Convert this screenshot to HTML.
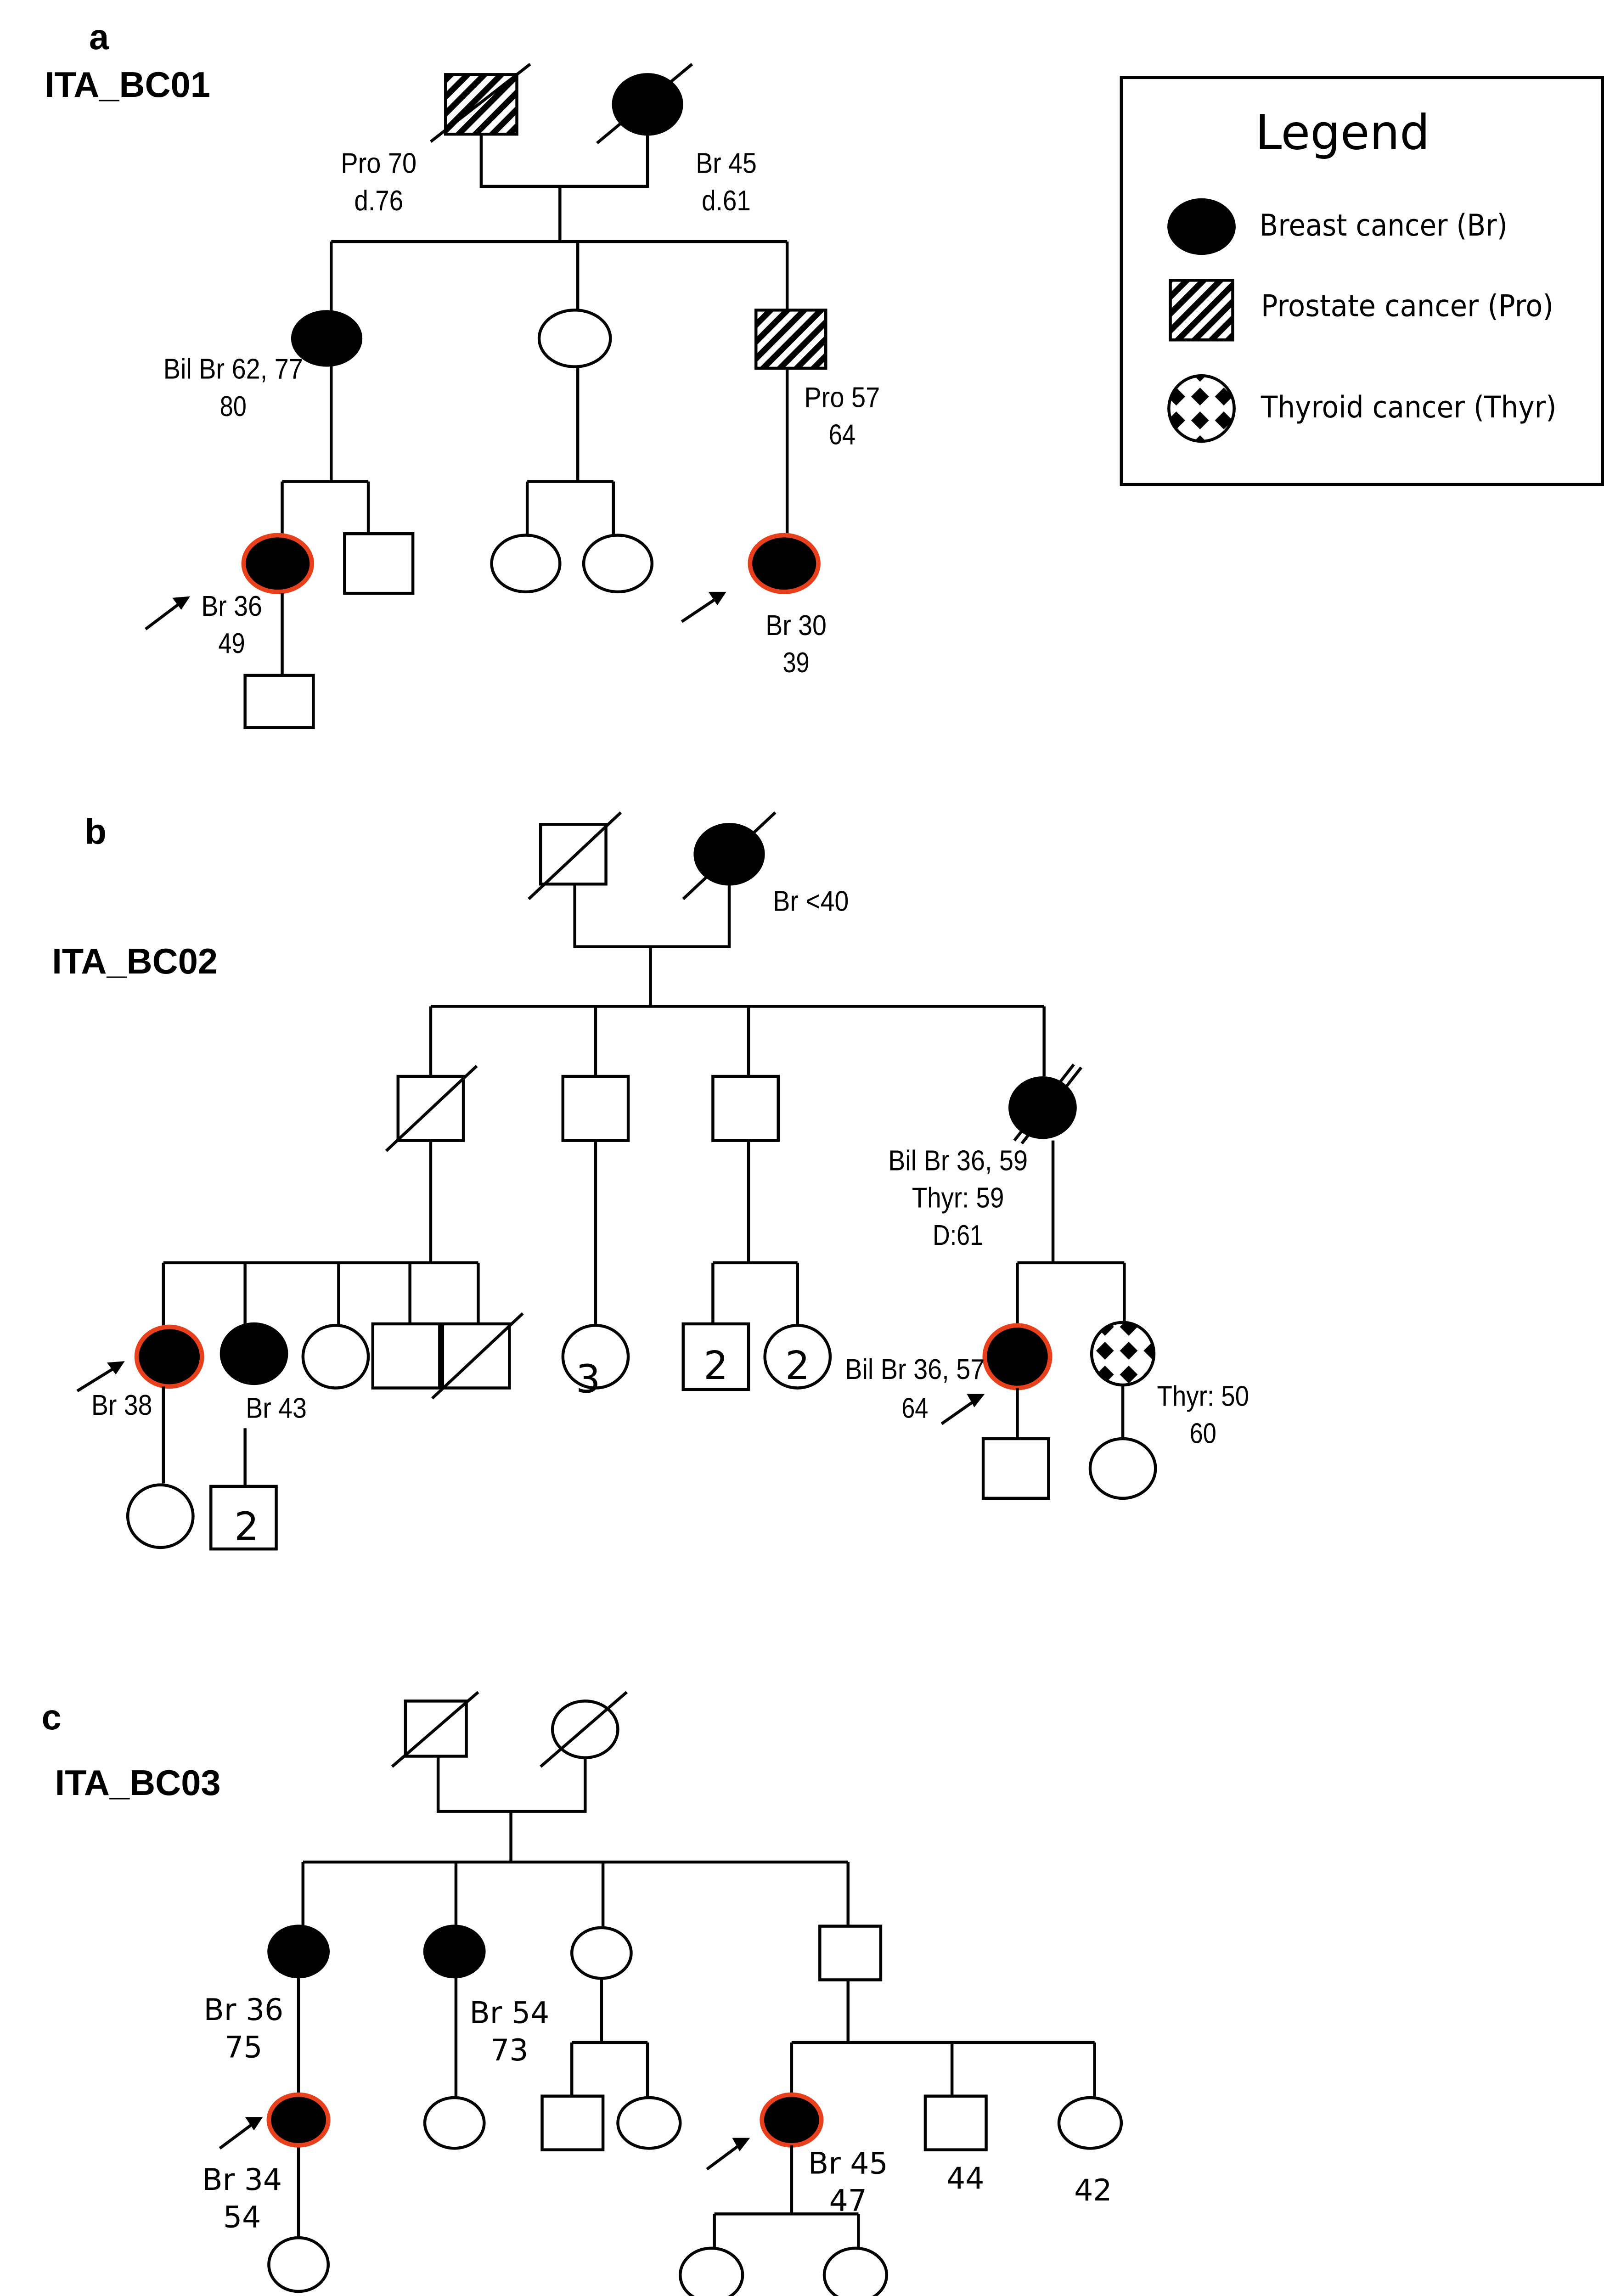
<!DOCTYPE html>
<html><head><meta charset="utf-8"><style>
html,body{margin:0;padding:0;background:#fff;width:3493px;height:5016px;overflow:hidden}
svg{display:block}
.n{font-family:"Liberation Sans Narrow","Liberation Sans",sans-serif;font-size:19px;text-anchor:middle}
.d{font-family:"DejaVu Sans","Liberation Sans",sans-serif;font-size:20px;text-anchor:middle}
.b{font-family:"Liberation Sans",sans-serif;font-weight:bold;font-size:24px}
.l{font-family:"DejaVu Sans","Liberation Sans",sans-serif;font-size:20px}
</style></head><body>
<svg width="3493" height="5016" viewBox="0 0 1080 1545" preserveAspectRatio="none" xmlns="http://www.w3.org/2000/svg">
<defs>
<pattern id="h" patternUnits="userSpaceOnUse" width="8" height="8" patternTransform="rotate(45)">
<rect width="8" height="8" fill="#fff"/><rect width="4" height="8" fill="#000"/></pattern>
<pattern id="t" patternUnits="userSpaceOnUse" width="16" height="16" x="0" y="2">
<rect width="16" height="16" fill="#fff"/><polygon points="8,2 14,8 8,14 2,8" fill="#000"/></pattern>
</defs>
<g stroke="#000" stroke-width="2" fill="none">
<rect x="300" y="50" width="48" height="40" fill="url(#h)"/>
<line x1="290" y1="95" x2="357" y2="43"/>
<ellipse cx="436" cy="70" rx="23" ry="20" fill="#000"/>
<line x1="402" y1="96" x2="466" y2="43"/>
<path d="M324 90V125H436V90M377 125V162M223 162H530M223 162V210M389 162V210M530 162V208"/>
<ellipse cx="220" cy="227" rx="23" ry="18" fill="#000"/>
<ellipse cx="387" cy="227" rx="24" ry="19" fill="#fff"/>
<rect x="509" y="208" width="47" height="39" fill="url(#h)"/>
<path d="M223 245V323M190 323H248M190 323V360M248 323V358"/>
<ellipse cx="187" cy="378" rx="23" ry="19" fill="#000" stroke="#e8401c" stroke-width="3"/>
<rect x="232" y="358" width="46" height="40" fill="#fff"/>
<path d="M190 398V453"/>
<rect x="165" y="453" width="46" height="35" fill="#fff"/>
<path d="M389 246V323M355 323H413M355 323V359M413 323V359"/>
<ellipse cx="354" cy="378" rx="23" ry="19" fill="#fff"/>
<ellipse cx="416" cy="378" rx="23" ry="19" fill="#fff"/>
<path d="M530 247V360"/>
<ellipse cx="528" cy="378" rx="23" ry="19" fill="#000" stroke="#e8401c" stroke-width="3"/>
<rect x="755" y="52" width="324" height="273"/>
<ellipse cx="809" cy="152" rx="22" ry="18" fill="#000"/>
<rect x="788" y="188" width="42" height="40" fill="url(#h)"/>
<circle cx="809" cy="274" r="22" fill="url(#t)"/>
<rect x="364" y="553" width="44" height="40"/>
<line x1="356" y1="603" x2="418" y2="545"/>
<ellipse cx="491" cy="573" rx="23" ry="20" fill="#000"/>
<line x1="460" y1="603" x2="522" y2="545"/>
<path d="M387 593V635H491V593M438 635V675M290 675H703M290 675V722M401 675V722M504 675V722M703 675V722"/>
<rect x="268" y="722" width="44" height="43"/>
<line x1="260" y1="772" x2="321" y2="715"/>
<rect x="379" y="722" width="44" height="43"/>
<rect x="480" y="722" width="44" height="43"/>
<ellipse cx="702" cy="743" rx="22" ry="20" fill="#000"/>
<line x1="683" y1="765" x2="723" y2="714"/>
<line x1="688" y1="767" x2="728" y2="716"/>
<path d="M290 765V847M110 847H322M110 847V890M165 847V888M228 847V890M276 847V888M322 847V888"/>
<ellipse cx="114" cy="910" rx="22" ry="20" fill="#000" stroke="#e8401c" stroke-width="3"/>
<ellipse cx="171" cy="908" rx="22" ry="20" fill="#000"/>
<ellipse cx="226" cy="910" rx="22" ry="21" fill="#fff"/>
<rect x="251" y="888" width="45" height="43" fill="#fff"/>
<rect x="298" y="888" width="45" height="43" fill="#fff"/>
<line x1="291" y1="938" x2="352" y2="881"/>
<path d="M110 930V995M165 958V997"/>
<ellipse cx="108" cy="1017" rx="22" ry="21"/>
<rect x="142" y="997" width="44" height="42"/>
<path d="M401 765V889"/>
<ellipse cx="401" cy="910" rx="22" ry="21"/>
<path d="M504 765V847M480 847H537M480 847V888M537 847V889"/>
<rect x="460" y="888" width="44" height="44"/>
<ellipse cx="537" cy="910" rx="22" ry="21"/>
<path d="M709 765V847M685 847H757M685 847V888M757 847V887"/>
<ellipse cx="685" cy="910" rx="22" ry="21" fill="#000" stroke="#e8401c" stroke-width="3"/>
<circle cx="756" cy="908" r="21" fill="url(#t)"/>
<path d="M685 931V965M756 929V965"/>
<rect x="662" y="965" width="44" height="40"/>
<ellipse cx="756" cy="985" rx="22" ry="20"/>
<rect x="273" y="1141" width="41" height="37"/>
<line x1="264" y1="1185" x2="322" y2="1135"/>
<ellipse cx="394" cy="1160" rx="22" ry="19"/>
<line x1="364" y1="1185" x2="422" y2="1135"/>
<path d="M295 1178V1215H394V1179M344 1215V1249M204 1249H571M204 1249V1292M307 1249V1292M406 1249V1293M571 1249V1292"/>
<ellipse cx="201" cy="1309" rx="20" ry="17" fill="#000"/>
<ellipse cx="306" cy="1309" rx="20" ry="17" fill="#000"/>
<ellipse cx="405" cy="1310" rx="20" ry="17"/>
<rect x="552" y="1292" width="41" height="36"/>
<path d="M201 1326V1405M201 1439V1501M307 1326V1407"/>
<ellipse cx="201" cy="1422" rx="20" ry="17" fill="#000" stroke="#e8401c" stroke-width="3"/>
<ellipse cx="201" cy="1519" rx="20" ry="18"/>
<ellipse cx="306" cy="1424" rx="20" ry="17"/>
<path d="M405 1327V1370M385 1370H436M385 1370V1406M436 1370V1407"/>
<rect x="365" y="1406" width="41" height="36"/>
<ellipse cx="437" cy="1424" rx="21" ry="17"/>
<path d="M571 1328V1370M533 1370H737M533 1370V1405M641 1370V1406M737 1370V1407"/>
<ellipse cx="533" cy="1422" rx="20" ry="17" fill="#000" stroke="#e8401c" stroke-width="3"/>
<rect x="623" y="1406" width="41" height="36"/>
<ellipse cx="734" cy="1424" rx="21" ry="17"/>
<path d="M533 1439V1485M481 1485H578M481 1485V1508M578 1485V1508"/>
<ellipse cx="479" cy="1526" rx="21" ry="18"/>
<ellipse cx="576" cy="1526" rx="21" ry="18"/>
</g>
<g stroke="#000" stroke-width="2">
<line x1="98" y1="422" x2="122" y2="404"/>
<line x1="459" y1="417" x2="483" y2="401"/>
<line x1="52" y1="933" x2="78" y2="917"/>
<line x1="634" y1="955" x2="657" y2="939"/>
<line x1="148" y1="1441" x2="171" y2="1424"/>
<line x1="476" y1="1455" x2="499" y2="1438"/>
</g>
<g fill="#000">
<polygon points="128,400 116,401 122,409"/>
<polygon points="489,397 477,397 483,406"/>
<polygon points="84,913 72,914 78,922"/>
<polygon points="663,935 651,935 656,944"/>
<polygon points="177,1420 165,1420 171,1429"/>
<polygon points="505,1434 493,1434 498,1443"/>
</g>
<text class="b" x="60" y="33">a</text>
<text class="b" x="30" y="65">ITA_BC01</text>
<text class="n" x="255" y="116" textLength="51" lengthAdjust="spacingAndGlyphs">Pro 70</text><text class="n" x="255" y="141" textLength="33" lengthAdjust="spacingAndGlyphs">d.76</text>
<text class="n" x="489" y="116" textLength="41" lengthAdjust="spacingAndGlyphs">Br 45</text><text class="n" x="489" y="141" textLength="33" lengthAdjust="spacingAndGlyphs">d.61</text>
<text class="n" x="157" y="254" textLength="94" lengthAdjust="spacingAndGlyphs">Bil Br 62, 77</text><text class="n" x="157" y="279" textLength="18" lengthAdjust="spacingAndGlyphs">80</text>
<text class="n" x="567" y="273" textLength="51" lengthAdjust="spacingAndGlyphs">Pro 57</text><text class="n" x="567" y="298" textLength="18" lengthAdjust="spacingAndGlyphs">64</text>
<text class="n" x="156" y="413" textLength="41" lengthAdjust="spacingAndGlyphs">Br 36</text><text class="n" x="156" y="438" textLength="18" lengthAdjust="spacingAndGlyphs">49</text>
<text class="n" x="536" y="426" textLength="41" lengthAdjust="spacingAndGlyphs">Br 30</text><text class="n" x="536" y="451" textLength="18" lengthAdjust="spacingAndGlyphs">39</text>
<text x="904" y="100" style="font-family:'DejaVu Sans','Liberation Sans',sans-serif;font-size:32px;text-anchor:middle">Legend</text>
<text class="l" x="848" y="158" textLength="167" lengthAdjust="spacingAndGlyphs">Breast cancer (Br)</text>
<text class="l" x="849" y="212" textLength="197" lengthAdjust="spacingAndGlyphs">Prostate cancer (Pro)</text>
<text class="l" x="849" y="280" textLength="199" lengthAdjust="spacingAndGlyphs">Thyroid cancer (Thyr)</text>
<text class="b" x="57" y="566">b</text>
<text class="b" x="35" y="653">ITA_BC02</text>
<text class="n" x="546" y="611" textLength="51" lengthAdjust="spacingAndGlyphs">Br &lt;40</text>
<text class="n" x="645" y="785" textLength="94" lengthAdjust="spacingAndGlyphs">Bil Br 36, 59</text><text class="n" x="645" y="810" textLength="62" lengthAdjust="spacingAndGlyphs">Thyr: 59</text><text class="n" x="645" y="835" textLength="34" lengthAdjust="spacingAndGlyphs">D:61</text>
<text class="n" x="82" y="949" textLength="41" lengthAdjust="spacingAndGlyphs">Br 38</text>
<text class="n" x="186" y="951" textLength="41" lengthAdjust="spacingAndGlyphs">Br 43</text>
<text class="n" x="616" y="925" textLength="94" lengthAdjust="spacingAndGlyphs">Bil Br 36, 57</text><text class="n" x="616" y="951" textLength="18" lengthAdjust="spacingAndGlyphs">64</text>
<text class="n" x="810" y="943" textLength="62" lengthAdjust="spacingAndGlyphs">Thyr: 50</text><text class="n" x="810" y="968" textLength="18" lengthAdjust="spacingAndGlyphs">60</text>
<text class="d" x="166" y="1033" style="font-size:26px">2</text>
<text class="d" x="396" y="934" style="font-size:26px">3</text>
<text class="d" x="482" y="925" style="font-size:26px">2</text>
<text class="d" x="537" y="925" style="font-size:26px">2</text>
<text class="b" x="28" y="1160">c</text>
<text class="b" x="37" y="1204">ITA_BC03</text>
<text class="d" x="164" y="1355">Br 36</text><text class="d" x="164" y="1380">75</text>
<text class="d" x="343" y="1357">Br 54</text><text class="d" x="343" y="1382">73</text>
<text class="d" x="163" y="1469">Br 34</text><text class="d" x="163" y="1494">54</text>
<text class="d" x="571" y="1458">Br 45</text><text class="d" x="571" y="1483">47</text>
<text class="d" x="650" y="1468">44</text>
<text class="d" x="736" y="1476">42</text>
</svg>
</body></html>
